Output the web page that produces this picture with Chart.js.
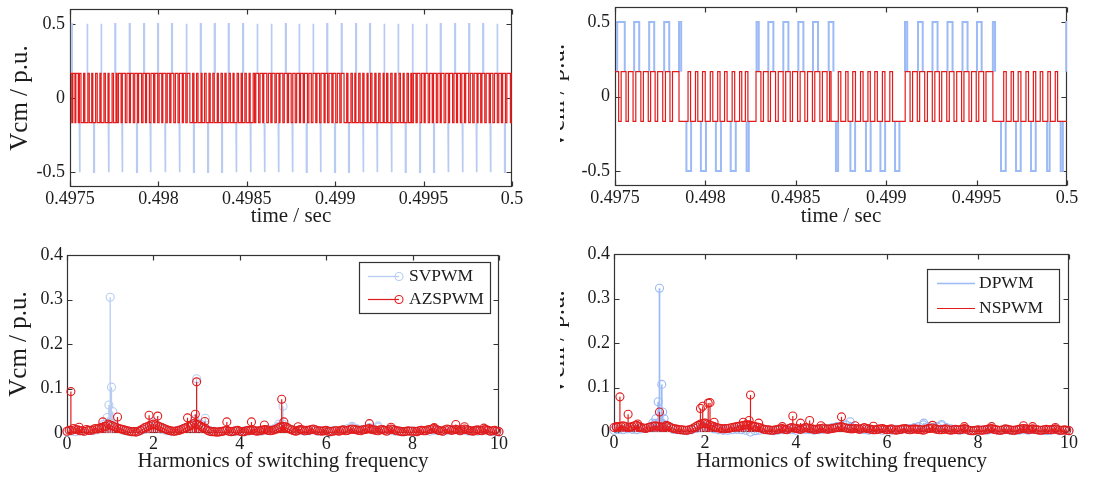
<!DOCTYPE html>
<html>
<head>
<meta charset="utf-8">
<script src="https://cdn.jsdelivr.net/npm/chart.js@4.4.1/dist/chart.umd.min.js"></script>
<style>
  html, body { margin: 0; padding: 0; background: #fff; }
  body { position: relative; width: 1100px; height: 483px; overflow: hidden; }
  .panel { position: absolute; overflow: hidden; }
  .panel canvas { position: absolute; top: 0; }
</style>
</head>
<body>
<div class="panel" style="left:0;top:0;width:550px;height:241px"><canvas id="tl" width="550" height="241" style="left:0"></canvas></div>
<div class="panel" style="left:560px;top:0;width:540px;height:241px"><canvas id="tr" width="560" height="241" style="left:-20px"></canvas></div>
<div class="panel" style="left:0;top:241px;width:550px;height:242px"><canvas id="bl" width="550" height="242" style="left:0"></canvas></div>
<div class="panel" style="left:560px;top:241px;width:540px;height:242px"><canvas id="br" width="560" height="242" style="left:-20px"></canvas></div>
<script>
// ---- axes ----
const T0 = 0.4975;                 // window start, s
const timeTicks = [0.4975, 0.498, 0.4985, 0.499, 0.4995, 0.5];
const vcmTicks = [-0.5, 0, 0.5];
const harmTicks = [0, 2, 4, 6, 8, 10];
const magTicks = [0, 0.1, 0.2, 0.3, 0.4];

// ---- time waveforms (all times in microseconds after T0) ----
// SVPWM: zero-vector pulses, V7 -> +0.5 and V0 -> -0.5
const svpwmHigh = [11, 98, 177, 256, 338, 419, 498, 577, 659, 740, 819, 898, 979, 1060, 1140, 1221,
  1297, 1376, 1455, 1537, 1618, 1697, 1778, 1857, 1938, 2017, 2097, 2178, 2258, 2337, 2417];
const svpwmLow = [55, 136, 219, 296, 379, 456, 539, 620, 701, 781, 860, 941, 1022, 1101, 1180, 1259,
  1339, 1418, 1499, 1578, 1659, 1738, 1819, 1899, 1980, 2059, 2140, 2221, 2300, 2379, 2460];
const svpwmWidth = 3;

// AZSPWM: dwell times, alternating +1/6 and -1/6, starting at +1/6
const azspwmDwell = [
  10, 6, 12, 5, 14, 6, 9,
  15, 7, 17, 8, 14, 6, 16, 9, 15, 7, 16, 8, 15, 6, 17, 8, 14, 6,
  8, 15, 7, 17, 9, 14, 6, 16, 8, 15, 7, 17, 8, 14, 6, 16, 9, 15, 7, 16, 8, 15, 6, 17, 8, 14, 7, 16, 9, 15, 8, 16, 6, 14, 8, 15,
  16, 7, 15, 8, 17, 6, 14, 9, 16, 7, 15, 8, 17, 6, 15, 8, 14, 7, 16, 8, 15, 6, 17, 8, 15, 7, 14, 8, 16, 6, 17, 8,
  7, 16, 8, 15, 6, 17, 9, 14, 7, 16, 8, 15, 6, 16, 8, 17, 7, 15, 9, 14, 8, 16, 6, 15, 7, 17, 8, 14, 9, 16, 7, 15, 8, 17, 6, 14, 8, 16, 7, 15, 9, 14, 8, 16,
  15, 7, 17, 8, 14, 6, 16, 8, 15, 7, 17, 6, 14, 8, 16, 7, 15, 8, 17, 6, 14, 7, 16, 8, 15, 7, 17, 8, 15, 6, 16, 8, 14, 6,
  8, 15, 7, 16, 9, 14, 6, 17, 8, 15, 7, 16, 8, 14, 6, 16, 9, 15, 7, 17, 8, 14, 6, 16, 8, 15, 7, 17, 9, 14, 8, 16, 6, 15, 7, 16, 8, 17, 7, 14, 9, 16, 8, 15, 7, 16, 8, 20, 8, 20
];

// DPWM: clamped-sector pulses (centre, width, level)
const dpwmCentre = [33, 120, 203, 286, 360, 408, 489, 572, 654, 734, 789, 862, 945, 1028, 1109, 1195,
  1228, 1315, 1401, 1481, 1561, 1610, 1689, 1770, 1853, 1936, 2015, 2096, 2148, 2231, 2314, 2397, 2471, 2506];
const dpwmWidth = [42, 28, 28, 28, 12, 26, 28, 28, 28, 12, 12, 28, 28, 28, 28, 26,
  12, 26, 26, 26, 24, 12, 26, 28, 28, 28, 26, 12, 26, 26, 26, 14, 12, 20];
const dpwmLevel = [0.5, 0.5, 0.5, 0.5, 0.5, -0.5, -0.5, -0.5, -0.5, -0.5, 0.5, 0.5, 0.5, 0.5, 0.5, 0.5,
  -0.5, -0.5, -0.5, -0.5, -0.5, 0.5, 0.5, 0.5, 0.5, 0.5, 0.5, 0.5, -0.5, -0.5, -0.5, -0.5, -0.5, 0.5];

// NSPWM: dwell times, alternating +1/6 and -1/6, starting at +1/6
const nspwmDwell = [
  20, 14, 27, 13, 26, 15, 28, 14, 27, 13, 25, 14, 28, 15, 25, 14, 36, 50,
  14, 27, 13, 26, 15, 28, 14, 27, 13, 25, 14, 28, 14, 27, 12, 20, 14, 45,
  27, 14, 26, 13, 28, 15, 27, 14, 25, 13, 28, 14, 26, 15, 27, 13, 28, 14, 26, 14, 8, 40,
  14, 27, 13, 26, 15, 28, 14, 27, 13, 25, 14, 28, 14, 27, 15, 70,
  27, 14, 26, 13, 28, 15, 27, 14, 25, 13, 28, 14, 26, 15, 27, 13, 28, 14, 26, 14, 27, 13, 38, 60,
  14, 27, 13, 26, 15, 28, 14, 27, 13, 25, 14, 28, 14, 27, 13, 60
];

// ---- spectra: floor on a 0.1 grid (and the 0.05-shifted grid) plus the distinct lines ----
const harmStep = 0.1;
const svpwmFloor = [
  0.002, 0.004, 0.003, 0.005, 0.004, 0.006, 0.005, 0.007, 0.012, 0.020,
  0.025, 0.018, 0.010, 0.006, 0.004, 0.003, 0.004, 0.005, 0.008, 0.012,
  0.015, 0.012, 0.008, 0.005, 0.004, 0.005, 0.007, 0.010, 0.014, 0.020,
  0.025, 0.020, 0.012, 0.006, 0.004, 0.003, 0.004, 0.005, 0.004, 0.003,
  0.004, 0.005, 0.004, 0.006, 0.005, 0.004, 0.006, 0.008, 0.010, 0.015,
  0.020, 0.012, 0.008, 0.005, 0.006, 0.004, 0.005, 0.007, 0.004, 0.005,
  0.004, 0.005, 0.006, 0.005, 0.008, 0.010, 0.012, 0.010, 0.008, 0.009,
  0.012, 0.010, 0.013, 0.008, 0.006, 0.005, 0.004, 0.005, 0.003, 0.004,
  0.005, 0.004, 0.006, 0.005, 0.004, 0.006, 0.005, 0.004, 0.005, 0.006,
  0.007, 0.005, 0.006, 0.004, 0.005, 0.004, 0.006, 0.005, 0.004, 0.003,
  0.002
];
const svpwmLines = [[0.85, 0.02], [0.93, 0.035], [0.97, 0.063], [1.0, 0.305], [1.03, 0.103], [1.06, 0.048],
  [2.0, 0.025], [2.95, 0.03], [3.0, 0.122], [3.2, 0.033], [4.9, 0.02], [5.0, 0.06], [6.6, 0.015], [7.2, 0.016]];

const azspwmFloor = [
  0.004, 0.006, 0.008, 0.005, 0.004, 0.006, 0.007, 0.009, 0.012, 0.015,
  0.018, 0.014, 0.010, 0.008, 0.005, 0.003, 0.002, 0.006, 0.012, 0.016,
  0.020, 0.016, 0.012, 0.008, 0.005, 0.004, 0.006, 0.010, 0.014, 0.018,
  0.020, 0.015, 0.010, 0.004, 0.003, 0.002, 0.004, 0.006, 0.003, 0.005,
  0.004, 0.003, 0.006, 0.007, 0.004, 0.006, 0.008, 0.005, 0.007, 0.012,
  0.015, 0.012, 0.007, 0.004, 0.008, 0.005, 0.006, 0.009, 0.005, 0.004,
  0.006, 0.003, 0.005, 0.004, 0.007, 0.006, 0.009, 0.007, 0.005, 0.008,
  0.010, 0.007, 0.005, 0.008, 0.004, 0.009, 0.006, 0.004, 0.003, 0.005,
  0.004, 0.003, 0.006, 0.005, 0.008, 0.010, 0.006, 0.004, 0.009, 0.006,
  0.008, 0.005, 0.009, 0.006, 0.004, 0.007, 0.005, 0.008, 0.004, 0.006,
  0.003
];
const azspwmFloorMid = [
  0.006, 0.010, 0.007, 0.005, 0.008, 0.006, 0.010, 0.011, 0.014, 0.020,
  0.016, 0.012, 0.009, 0.006, 0.004, 0.003, 0.004, 0.009, 0.014, 0.018,
  0.018, 0.014, 0.010, 0.006, 0.004, 0.005, 0.008, 0.012, 0.016, 0.022,
  0.018, 0.012, 0.006, 0.003, 0.002, 0.003, 0.005, 0.004, 0.004, 0.006,
  0.003, 0.005, 0.006, 0.005, 0.005, 0.007, 0.006, 0.006, 0.009, 0.014,
  0.014, 0.009, 0.005, 0.006, 0.007, 0.006, 0.008, 0.007, 0.005, 0.005,
  0.004, 0.004, 0.005, 0.006, 0.005, 0.008, 0.008, 0.006, 0.007, 0.009,
  0.008, 0.006, 0.007, 0.006, 0.007, 0.008, 0.005, 0.003, 0.004, 0.004,
  0.004, 0.005, 0.005, 0.007, 0.009, 0.008, 0.005, 0.007, 0.008, 0.007,
  0.007, 0.007, 0.008, 0.005, 0.006, 0.006, 0.007, 0.006, 0.005, 0.004
];
const azspwmLines = [[0.09, 0.093], [0.28, 0.013], [0.83, 0.025], [1.17, 0.036], [1.9, 0.04], [2.1, 0.038],
  [2.79, 0.034], [2.97, 0.042], [3.0, 0.115], [3.19, 0.026], [3.7, 0.025], [4.27, 0.025], [4.57, 0.018],
  [4.97, 0.076], [5.02, 0.025], [5.35, 0.014], [7.0, 0.021], [7.5, 0.013], [8.5, 0.012], [9.0, 0.019],
  [9.2, 0.014], [9.65, 0.011]];

const dpwmFloor = [
  0.004, 0.006, 0.005, 0.007, 0.006, 0.005, 0.007, 0.008, 0.012, 0.018,
  0.022, 0.016, 0.010, 0.006, 0.005, 0.004, 0.003, 0.005, 0.008, 0.010,
  0.012, 0.010, 0.007, 0.005, 0.004, 0.004, 0.005, 0.006, 0.005, 0.004,
  0.000, 0.003, 0.004, 0.005, 0.004, 0.003, 0.004, 0.005, 0.006, 0.005,
  0.004, 0.005, 0.006, 0.005, 0.004, 0.005, 0.006, 0.008, 0.010, 0.012,
  0.014, 0.016, 0.012, 0.008, 0.006, 0.005, 0.004, 0.005, 0.006, 0.004,
  0.005, 0.004, 0.006, 0.005, 0.007, 0.008, 0.010, 0.012, 0.016, 0.012,
  0.010, 0.012, 0.014, 0.010, 0.007, 0.005, 0.004, 0.005, 0.004, 0.003,
  0.004, 0.005, 0.004, 0.006, 0.005, 0.004, 0.005, 0.004, 0.003, 0.004,
  0.005, 0.004, 0.006, 0.005, 0.004, 0.003, 0.004, 0.005, 0.003, 0.004,
  0.003
];
const dpwmLines = [[0.85, 0.02], [0.92, 0.03], [0.97, 0.068], [1.0, 0.323], [1.05, 0.107], [1.07, 0.045],
  [1.1, 0.03], [2.0, 0.02], [5.19, 0.023], [6.81, 0.02], [7.2, 0.017]];

const nspwmFloor = [
  0.010, 0.012, 0.014, 0.010, 0.012, 0.015, 0.010, 0.008, 0.011, 0.014,
  0.012, 0.010, 0.013, 0.008, 0.006, 0.005, 0.004, 0.006, 0.012, 0.018,
  0.020, 0.016, 0.012, 0.009, 0.007, 0.008, 0.010, 0.012, 0.014, 0.016,
  0.015, 0.012, 0.010, 0.006, 0.005, 0.004, 0.006, 0.008, 0.005, 0.010,
  0.008, 0.006, 0.010, 0.008, 0.006, 0.007, 0.009, 0.006, 0.008, 0.010,
  0.012, 0.009, 0.007, 0.008, 0.006, 0.010, 0.007, 0.005, 0.006, 0.008,
  0.005, 0.007, 0.004, 0.006, 0.008, 0.005, 0.007, 0.006, 0.004, 0.008,
  0.009, 0.006, 0.005, 0.007, 0.004, 0.006, 0.005, 0.008, 0.004, 0.003,
  0.005, 0.004, 0.006, 0.008, 0.005, 0.004, 0.007, 0.005, 0.004, 0.006,
  0.008, 0.006, 0.007, 0.005, 0.004, 0.006, 0.005, 0.007, 0.004, 0.005,
  0.003
];
const nspwmFloorMid = [
  0.011, 0.013, 0.012, 0.011, 0.014, 0.012, 0.009, 0.010, 0.013, 0.013,
  0.011, 0.012, 0.010, 0.007, 0.005, 0.004, 0.005, 0.009, 0.015, 0.019,
  0.018, 0.014, 0.010, 0.008, 0.008, 0.009, 0.011, 0.013, 0.015, 0.016,
  0.013, 0.011, 0.008, 0.005, 0.004, 0.005, 0.007, 0.006, 0.008, 0.009,
  0.007, 0.008, 0.009, 0.007, 0.006, 0.008, 0.007, 0.007, 0.009, 0.011,
  0.010, 0.008, 0.007, 0.007, 0.008, 0.008, 0.006, 0.005, 0.007, 0.006,
  0.006, 0.005, 0.005, 0.007, 0.006, 0.006, 0.006, 0.005, 0.006, 0.008,
  0.007, 0.005, 0.006, 0.005, 0.005, 0.005, 0.006, 0.006, 0.003, 0.004,
  0.004, 0.005, 0.007, 0.006, 0.004, 0.005, 0.006, 0.004, 0.005, 0.007,
  0.007, 0.006, 0.006, 0.004, 0.005, 0.005, 0.006, 0.005, 0.004, 0.004
];
const nspwmLines = [[0.05, 0.012], [0.13, 0.079], [0.31, 0.04], [0.52, 0.018], [1.0, 0.045], [1.15, 0.015],
  [1.9, 0.053], [1.95, 0.058], [2.07, 0.065], [2.11, 0.066], [2.2, 0.022], [2.84, 0.022], [2.97, 0.026],
  [3.0, 0.083], [3.18, 0.02], [3.7, 0.012], [3.93, 0.036], [4.1, 0.02], [4.3, 0.026], [4.55, 0.014],
  [5.0, 0.034], [5.3, 0.014], [5.7, 0.013], [7.0, 0.015], [7.7, 0.012], [8.3, 0.012], [9.0, 0.014],
  [9.2, 0.012], [9.7, 0.01]];

// ---- style ----
const LEVEL = 1 / 6;
const RED = 'rgb(226, 28, 28)';
const BLUE_SV = 'rgb(184, 204, 242)';
const BLUE_DP = 'rgb(156, 186, 245)';
const INK = '#1c1c1c';
const SERIF = "'Liberation Serif', 'Times New Roman', serif";
Chart.defaults.font.family = SERIF;
Chart.defaults.color = INK;

const us = v => T0 + v * 1e-6;

// square wave from dwell times, stepped: 'before' draws horizontal then vertical
function stepTrace(dwell, first) {
  let t = 0, lvl = first;
  const pts = [{ x: T0, y: lvl }];
  dwell.forEach(d => {
    t += d;
    lvl = -lvl;
    pts.push({ x: us(t), y: lvl });
  });
  return pts;
}

// separate rectangular pulses from the +-1/6 band out to +-0.5
function pulseTrace(centres, widths, levels) {
  const pts = [];
  centres.forEach((c, i) => {
    const w = Array.isArray(widths) ? widths[i] : widths;
    const top = levels[i];
    const base = Math.sign(top) * LEVEL;
    const a = us(c - w / 2), b = us(c + w / 2);
    pts.push({ x: a, y: base }, { x: a, y: top }, { x: b, y: top }, { x: b, y: base }, { x: b, y: null });
  });
  return pts;
}

function spectrum(floor, mid, lines) {
  const grid = floor.map((v, i) => [+(i * harmStep).toFixed(2), v]);
  const half = (mid || []).map((v, i) => [+((i + 0.5) * harmStep).toFixed(2), v]);
  return grid.concat(half, lines).sort((p, q) => p[0] - q[0]);
}

function stemSets(points, color, width, order) {
  return [
    {
      data: points.flatMap(([x, y]) => [{ x, y: 0 }, { x, y }, { x, y: null }]),
      borderColor: color, borderWidth: width, pointRadius: 0, order: order + 1
    },
    {
      data: points.map(([x, y]) => ({ x, y })),
      showLine: false, pointRadius: 4, pointBorderWidth: 1.1,
      pointBorderColor: color, pointBackgroundColor: 'rgba(0,0,0,0)', clip: false, order
    }
  ];
}

// axes box with inward ticks on all four sides
const framePlugin = {
  id: 'frame',
  beforeDatasetsDraw(chart) {
    const { ctx, chartArea: a, scales } = chart;
    const len = 5;
    const l = Math.round(a.left) + 0.5, r = Math.round(a.right) - 0.5;
    const t = Math.round(a.top) + 0.5, b = Math.round(a.bottom) - 0.5;
    ctx.save();
    ctx.strokeStyle = '#333';
    ctx.lineWidth = 1.2;
    ctx.strokeRect(l, t, r - l, b - t);
    ctx.beginPath();
    scales.x.ticks.forEach(tk => {
      const px = Math.round(scales.x.getPixelForValue(tk.value)) + 0.5;
      ctx.moveTo(px, b); ctx.lineTo(px, b - len);
      ctx.moveTo(px, t); ctx.lineTo(px, t + len);
    });
    scales.y.ticks.forEach(tk => {
      const py = Math.round(scales.y.getPixelForValue(tk.value)) + 0.5;
      ctx.moveTo(l, py); ctx.lineTo(l + len, py);
      ctx.moveTo(r, py); ctx.lineTo(r - len, py);
    });
    ctx.stroke();
    ctx.restore();
  }
};

function boxLegend(cfg) {
  return {
    id: 'boxLegend',
    afterDatasetsDraw(chart) {
      const { ctx, chartArea: a } = chart;
      const x0 = Math.round(a.right - cfg.right - cfg.width), y0 = Math.round(a.top + cfg.top);
      ctx.save();
      ctx.fillStyle = '#fff';
      ctx.fillRect(x0, y0, cfg.width, cfg.height);
      ctx.strokeStyle = '#333';
      ctx.lineWidth = 1.2;
      ctx.strokeRect(x0 + 0.5, y0 + 0.5, cfg.width - 1, cfg.height - 1);
      ctx.font = '17.5px ' + SERIF;
      ctx.textBaseline = 'middle';
      cfg.items.forEach((it, i) => {
        const y = y0 + cfg.rowTop + i * cfg.rowGap + 0.5;
        ctx.strokeStyle = it.color;
        ctx.lineWidth = it.width;
        ctx.beginPath();
        ctx.moveTo(x0 + cfg.lineFrom, y);
        ctx.lineTo(x0 + cfg.lineTo, y);
        ctx.stroke();
        if (it.marker) {
          ctx.lineWidth = 1.1;
          ctx.beginPath();
          ctx.arc(x0 + cfg.lineTo, y, 4, 0, Math.PI * 2);
          ctx.stroke();
        }
        ctx.fillStyle = INK;
        ctx.fillText(it.label, x0 + cfg.textAt, y);
      });
      ctx.restore();
    }
  };
}

// g: canvas size and wanted plot rectangle (canvas px)
function panel(id, g, axes, datasets, extra) {
  const fixTicks = list => s => { s.ticks = list.map(v => ({ value: v })); };
  new Chart(document.getElementById(id), {
    type: 'line',
    data: { datasets },
    options: {
      responsive: false,
      animation: false,
      events: [],
      layout: { padding: { left: 0, top: g.top, right: g.w - g.right, bottom: 0 } },
      plugins: { legend: { display: false }, tooltip: { enabled: false } },
      scales: {
        x: {
          type: 'linear', min: axes.x[0], max: axes.x[1],
          afterBuildTicks: fixTicks(axes.xTicks),
          afterFit: s => { s.height = g.h - g.bottom; s.paddingLeft = 0; s.paddingRight = 0; },
          grid: { display: false, drawTicks: false, tickLength: 0 },
          border: { display: false },
          ticks: { autoSkip: false, maxRotation: 0, padding: g.xTickPad, font: { size: 18 }, callback: v => String(v) },
          title: { display: true, text: axes.xTitle, font: { size: 21 }, padding: { top: 0, bottom: g.xTitlePad } }
        },
        y: {
          type: 'linear', min: axes.y[0], max: axes.y[1],
          afterBuildTicks: fixTicks(axes.yTicks),
          afterFit: s => { s.width = g.left; s.paddingTop = 0; s.paddingBottom = 0; },
          grid: { display: false, drawTicks: false, tickLength: 0 },
          border: { display: false },
          ticks: { autoSkip: false, padding: g.yTickPad, font: { size: 18 }, callback: v => String(v) },
          title: { display: true, text: 'Vcm / p.u.', font: { size: 25 }, padding: { top: g.yTitlePad, bottom: 0 } }
        }
      }
    },
    plugins: [framePlugin].concat(extra || [])
  });
}

const timeAxes = { x: [0.4975, 0.5], xTicks: timeTicks, y: [-0.6, 0.6], yTicks: vcmTicks, xTitle: 'time / sec' };
const harmAxes = { x: [0, 10], xTicks: harmTicks, y: [0, 0.4], yTicks: magTicks, xTitle: 'Harmonics of switching frequency' };

const svPulses = pulseTrace(
  svpwmHigh.concat(svpwmLow),
  svpwmWidth,
  svpwmHigh.map(() => 0.5).concat(svpwmLow.map(() => -0.5))
);

panel('tl',
  { w: 550, h: 241, left: 70, top: 9, right: 512, bottom: 187, xTickPad: 1, yTickPad: 5, xTitlePad: 12, yTitlePad: 5 },
  timeAxes,
  [
    { data: stepTrace(azspwmDwell, LEVEL), stepped: true, borderColor: RED, borderWidth: 1.2, pointRadius: 0, order: 0 },
    { data: svPulses, borderColor: BLUE_SV, borderWidth: 1.7, pointRadius: 0, order: 1 }
  ]);

panel('tr',
  { w: 560, h: 241, left: 75, top: 7, right: 527, bottom: 186, xTickPad: 1, yTickPad: 5, xTitlePad: 12, yTitlePad: 2 },
  timeAxes,
  [
    { data: stepTrace(nspwmDwell, LEVEL), stepped: true, borderColor: RED, borderWidth: 1.2, pointRadius: 0, order: 0 },
    { data: pulseTrace(dpwmCentre, dpwmWidth, dpwmLevel), borderColor: BLUE_DP, borderWidth: 2, pointRadius: 0, order: 1 }
  ]);

panel('bl',
  { w: 550, h: 242, left: 67, top: 14, right: 499, bottom: 192, xTickPad: 0, yTickPad: 4, xTitlePad: 9, yTitlePad: 4 },
  harmAxes,
  stemSets(spectrum(azspwmFloor, azspwmFloorMid, azspwmLines), RED, 1.2, 0)
    .concat(stemSets(spectrum(svpwmFloor, null, svpwmLines), BLUE_SV, 1.3, 2)),
  [boxLegend({
    right: 8, top: 7, width: 132, height: 52, rowTop: 14, rowGap: 23, lineFrom: 9, lineTo: 40, textAt: 50,
    items: [
      { label: 'SVPWM', color: BLUE_SV, width: 1.3, marker: true },
      { label: 'AZSPWM', color: RED, width: 1.2, marker: true }
    ]
  })]);

panel('br',
  { w: 560, h: 242, left: 74, top: 13, right: 529, bottom: 191, xTickPad: 0, yTickPad: 4, xTitlePad: 9, yTitlePad: 2 },
  harmAxes,
  stemSets(spectrum(nspwmFloor, nspwmFloorMid, nspwmLines), RED, 1.2, 0)
    .concat(stemSets(spectrum(dpwmFloor, null, dpwmLines), BLUE_DP, 1.7, 2)),
  [boxLegend({
    right: 9, top: 15, width: 133, height: 54, rowTop: 14, rowGap: 25, lineFrom: 10, lineTo: 48, textAt: 52,
    items: [
      { label: 'DPWM', color: BLUE_DP, width: 1.7, marker: false },
      { label: 'NSPWM', color: RED, width: 1.2, marker: false }
    ]
  })]);
</script>
</body>
</html>
